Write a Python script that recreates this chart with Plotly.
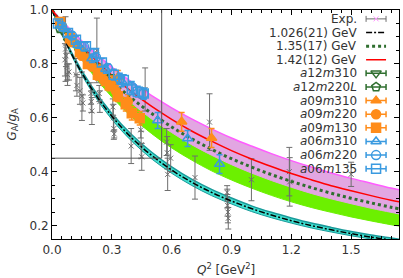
import plotly.graph_objects as go

# ---------------- data ----------------
Q2_GRID = [0.0, 0.1, 0.2, 0.3, 0.4, 0.5, 0.6, 0.7, 0.8, 0.9, 1.0, 1.1, 1.2, 1.3, 1.4, 1.5, 1.6, 1.7, 1.74]
FIT_1026 = [1.0, 0.834, 0.706, 0.606, 0.525, 0.460, 0.406, 0.361, 0.323, 0.291, 0.263, 0.239, 0.218, 0.200, 0.184, 0.170, 0.157, 0.146, 0.142]
FIT_1026_HI = [1.0, 0.840, 0.715, 0.616, 0.537, 0.472, 0.418, 0.372, 0.334, 0.302, 0.273, 0.249, 0.228, 0.209, 0.193, 0.178, 0.165, 0.154, 0.149]
FIT_1026_LO = [1.0, 0.828, 0.697, 0.594, 0.513, 0.447, 0.394, 0.349, 0.311, 0.280, 0.252, 0.229, 0.209, 0.191, 0.176, 0.162, 0.150, 0.139, 0.135]
FIT_135 = [1.0, 0.899, 0.812, 0.737, 0.672, 0.616, 0.566, 0.522, 0.483, 0.448, 0.417, 0.389, 0.364, 0.341, 0.320, 0.301, 0.284, 0.268, 0.262]
FIT_135_HI = [1.0, 0.919, 0.847, 0.783, 0.727, 0.676, 0.630, 0.589, 0.552, 0.518, 0.487, 0.459, 0.433, 0.410, 0.388, 0.368, 0.349, 0.332, 0.325]
FIT_135_LO = [1.0, 0.870, 0.765, 0.677, 0.603, 0.541, 0.488, 0.443, 0.403, 0.369, 0.339, 0.312, 0.288, 0.267, 0.249, 0.232, 0.217, 0.203, 0.198]
FIT_142 = [1.0, 0.908, 0.828, 0.758, 0.696, 0.642, 0.594, 0.551, 0.513, 0.478, 0.447, 0.419, 0.393, 0.370, 0.348, 0.329, 0.311, 0.294, 0.288]
FIT_142_HI = [1.0, 0.921, 0.850, 0.788, 0.732, 0.682, 0.637, 0.596, 0.559, 0.525, 0.495, 0.467, 0.441, 0.417, 0.395, 0.375, 0.357, 0.339, 0.333]
FIT_142_LO = [1.0, 0.891, 0.800, 0.721, 0.654, 0.595, 0.545, 0.500, 0.461, 0.426, 0.395, 0.367, 0.342, 0.319, 0.299, 0.281, 0.264, 0.249, 0.243]

EXP_Q2 = [0.065, 0.068, 0.070, 0.075, 0.078, 0.085, 0.120, 0.125, 0.140, 0.150, 0.155, 0.195, 0.197, 0.200,
          0.225, 0.237, 0.240, 0.305, 0.308, 0.310, 0.312, 0.397, 0.445, 0.447, 0.450, 0.467, 0.575, 0.578,
          0.580, 0.595, 0.717, 0.790, 0.878, 0.879, 0.880, 0.882, 0.884, 1.000, 1.190, 1.192, 1.500]
EXP_Y = [0.815, 0.855, 0.830, 0.790, 0.760, 0.770, 0.760, 0.720, 0.700, 0.680, 0.655, 0.690, 0.660, 0.625,
         0.850, 0.690, 0.660, 0.640, 0.600, 0.560, 0.540, 0.495, 0.555, 0.500, 0.455, 0.705, 0.510, 0.470,
         0.390, 0.450, 0.378, 0.584, 0.323, 0.300, 0.275, 0.250, 0.227, 0.370, 0.400, 0.362, 0.390]
EXP_ERR = [0.060, 0.120, 0.040, 0.050, 0.040, 0.030, 0.060, 0.040, 0.050, 0.090, 0.030, 0.040, 0.040, 0.050,
           0.120, 0.030, 0.040, 0.030, 0.050, 0.040, 0.015, 0.065, 0.030, 0.050, 0.050, 0.080, 0.050, 0.060,
           0.060, 0.050, 0.080, 0.105, 0.025, 0.035, 0.040, 0.040, 0.040, 0.078, 0.090, 0.090, 0.045]

A12M310_Q2 = [0.07, 0.14, 0.22, 0.30]
A12M310_Y = [0.905, 0.845, 0.790, 0.740]
A12M310_ERR = [0.015, 0.015, 0.020, 0.020]
A12M220L_Q2 = [0.04, 0.10, 0.16, 0.22, 0.28]
A12M220L_Y = [0.930, 0.880, 0.830, 0.790, 0.750]
A12M220L_ERR = [0.010, 0.015, 0.015, 0.020, 0.020]

A09M310_Q2 = [0.06, 0.12, 0.18, 0.24, 0.30, 0.33, 0.65, 0.80]
A09M310_Y = [0.930, 0.875, 0.820, 0.780, 0.735, 0.750, 0.585, 0.525]
A09M310_ERR = [0.010, 0.012, 0.015, 0.015, 0.020, 0.025, 0.035, 0.035]
A09M220_Q2 = [0.05, 0.10, 0.15, 0.20, 0.26, 0.32, 0.38]
A09M220_Y = [0.940, 0.880, 0.830, 0.790, 0.740, 0.700, 0.660]
A09M220_ERR = [0.010, 0.012, 0.015, 0.015, 0.020, 0.020, 0.025]
A09M130_Q2 = [0.04, 0.09, 0.14, 0.18, 0.23, 0.29, 0.33, 0.37, 0.40, 0.44]
A09M130_Y = [0.955, 0.895, 0.843, 0.800, 0.760, 0.720, 0.680, 0.650, 0.617, 0.598]
A09M130_ERR = [0.010, 0.012, 0.015, 0.015, 0.020, 0.020, 0.020, 0.025, 0.025, 0.025]

A06M310_Q2 = [0.06, 0.13, 0.20, 0.27, 0.35, 0.53, 0.68, 0.84]
A06M310_Y = [0.930, 0.870, 0.820, 0.780, 0.735, 0.590, 0.523, 0.428]
A06M310_ERR = [0.010, 0.012, 0.015, 0.015, 0.020, 0.030, 0.030, 0.035]
A06M220_Q2 = [0.05, 0.10, 0.16, 0.22, 0.28, 0.34, 0.40, 0.46]
A06M220_Y = [0.940, 0.905, 0.865, 0.825, 0.785, 0.745, 0.715, 0.690]
A06M220_ERR = [0.010, 0.012, 0.015, 0.015, 0.015, 0.020, 0.020, 0.020]
A06M135_Q2 = [0.03, 0.08, 0.12, 0.17, 0.21, 0.25, 0.31, 0.36, 0.40, 0.43, 0.46]
A06M135_Y = [0.950, 0.915, 0.890, 0.865, 0.840, 0.805, 0.760, 0.740, 0.705, 0.697, 0.690]
A06M135_ERR = [0.010, 0.012, 0.012, 0.015, 0.015, 0.015, 0.020, 0.020, 0.020, 0.020, 0.020]

INSET_Q2 = 0.55
INSET_Y = 0.45

LEGEND_LABELS = ["Exp.", "1.026(21) GeV", "1.35(17) GeV", "1.42(12) GeV",
                 "<i>a</i>12<i>m</i>310", "<i>a</i>12<i>m</i>220<i>L</i>",
                 "<i>a</i>09<i>m</i>310", "<i>a</i>09<i>m</i>220", "<i>a</i>09<i>m</i>130",
                 "<i>a</i>06<i>m</i>310", "<i>a</i>06<i>m</i>220", "<i>a</i>06<i>m</i>135"]

# ---------------- style ----------------
GRAY = "#6e6e6e"
DGREEN = "#2f6f2f"
ORANGE = "#ff8c1a"
BLUE = "#3a9ae0"
W, H = 403, 278
ML, MR, MT, MB = 52, 3, 7, 39
PW, PH = W - ML - MR, H - MT - MB

fig = go.Figure()


def band(lo, hi, fill, edge_hi, edge_lo):
    fig.add_trace(go.Scatter(x=Q2_GRID, y=lo, mode="lines", line=dict(color=edge_lo, width=1, shape="spline"),
                             showlegend=False, hoverinfo="skip"))
    fig.add_trace(go.Scatter(x=Q2_GRID, y=hi, mode="lines", fill="tonexty", fillcolor=fill,
                             line=dict(color=edge_hi, width=1.5, shape="spline"),
                             showlegend=False, hoverinfo="skip"))


band(FIT_135_LO, FIT_135_HI, "#6cf000", "#6cf000", "#6cf000")
band(FIT_142_LO, FIT_142_HI, "#e2a6e2", "#ff5cff", "#e2a6e2")
band(FIT_1026_LO, FIT_1026_HI, "#40e0d0", "#1a9a9a", "#1a9a9a")

# experimental points
fig.add_trace(go.Scatter(x=EXP_Q2, y=EXP_Y, mode="markers",
                         marker=dict(symbol="x-thin-open", size=5, line=dict(color=GRAY, width=1), color=GRAY),
                         error_y=dict(type="data", array=EXP_ERR, color=GRAY, thickness=1, width=3),
                         showlegend=False))

# fit curves
fig.add_trace(go.Scatter(x=Q2_GRID, y=FIT_1026, mode="lines",
                         line=dict(color="black", width=1.5, dash="6px,2px,2px,2px", shape="spline"),
                         showlegend=False))
fig.add_trace(go.Scatter(x=Q2_GRID, y=FIT_135, mode="lines",
                         line=dict(color=DGREEN, width=3, dash="3px,3px", shape="spline"),
                         showlegend=False))
fig.add_trace(go.Scatter(x=Q2_GRID, y=FIT_142, mode="lines",
                         line=dict(color="#ff0000", width=1.5, shape="spline"),
                         showlegend=False))

ENSEMBLES = [
    (A12M310_Q2, A12M310_Y, A12M310_ERR, DGREEN, "triangle-down-open"),
    (A12M220L_Q2, A12M220L_Y, A12M220L_ERR, DGREEN, "pentagon-open"),
    (A09M310_Q2, A09M310_Y, A09M310_ERR, ORANGE, "triangle-up"),
    (A09M220_Q2, A09M220_Y, A09M220_ERR, ORANGE, "circle"),
    (A09M130_Q2, A09M130_Y, A09M130_ERR, ORANGE, "square"),
    (A06M310_Q2, A06M310_Y, A06M310_ERR, BLUE, "triangle-up-open"),
    (A06M220_Q2, A06M220_Y, A06M220_ERR, BLUE, "circle-open"),
    (A06M135_Q2, A06M135_Y, A06M135_ERR, BLUE, "square-open"),
]
for xs, ys, es, col, sym in ENSEMBLES:
    fig.add_trace(go.Scatter(x=xs, y=ys, mode="markers",
                             marker=dict(symbol=sym, size=9, color=col, line=dict(color=col, width=1.5)),
                             error_y=dict(type="data", array=es, color=col, thickness=1.5, width=3),
                             showlegend=False))

# inset guide lines
fig.add_shape(type="line", x0=INSET_Q2, x1=INSET_Q2, y0=INSET_Y, y1=1.0, xref="x", yref="y",
              line=dict(color="#555555", width=1), layer="above")
fig.add_shape(type="line", x0=0, x1=INSET_Q2, y0=INSET_Y, y1=INSET_Y, xref="x", yref="y",
              line=dict(color="#555555", width=1), layer="above")

# ---------------- manual gnuplot-style key ----------------
ROW0_PX, ROW_DY = 16, 13.8
TEXT_RIGHT_PX, SAMPLE_C_PX, SAMPLE_HALF_PX = 360, 377, 10
fx = lambda px: (px - ML) / PW
fy = lambda py: (MT + PH - py) / PH
xc, xh = fx(SAMPLE_C_PX), SAMPLE_HALF_PX / PW
line_styles = [None,
               dict(color="black", width=1.5, dash="6px,2px,2px,2px"),
               dict(color=DGREEN, width=3, dash="3px,3px"),
               dict(color="#ff0000", width=1.5)]
for i, lab in enumerate(LEGEND_LABELS):
    yy = fy(ROW0_PX + i * ROW_DY)
    fig.add_annotation(x=fx(TEXT_RIGHT_PX), y=yy, xref="paper", yref="paper", text=lab, showarrow=False,
                       xanchor="right", yanchor="middle", font=dict(size=12, color="#333333"))
    if i == 0:
        fig.add_trace(go.Scatter(x=[xc], y=[yy], xaxis="x2", yaxis="y2", mode="markers",
                                 marker=dict(symbol="x-thin-open", size=5, line=dict(color=GRAY, width=1)),
                                 error_x=dict(type="data", array=[xh], color=GRAY, thickness=1, width=3),
                                 showlegend=False, hoverinfo="skip"))
    elif i <= 3:
        fig.add_trace(go.Scatter(x=[xc - xh, xc + xh], y=[yy, yy], xaxis="x2", yaxis="y2", mode="lines",
                                 line=line_styles[i], showlegend=False, hoverinfo="skip"))
    else:
        _, _, _, col, sym = ENSEMBLES[i - 4]
        fig.add_trace(go.Scatter(x=[xc], y=[yy], xaxis="x2", yaxis="y2", mode="markers",
                                 marker=dict(symbol=sym, size=9, color=col, line=dict(color=col, width=1.5)),
                                 error_x=dict(type="data", array=[xh], color=col, thickness=1.5, width=3),
                                 showlegend=False, hoverinfo="skip"))

# axis titles
fig.add_annotation(x=0.5, y=-(269 - (MT + PH)) / PH, xref="paper", yref="paper",
                   text="<i>Q</i><sup>2</sup> [GeV<sup>2</sup>]", showarrow=False,
                   xanchor="center", yanchor="middle", font=dict(size=12, color="#333333"))
fig.add_annotation(x=-(ML - 12) / PW, y=0.5, xref="paper", yref="paper",
                   text="<i>G</i><sub>A</sub>/<i>g</i><sub>A</sub>", showarrow=False, textangle=-90,
                   xanchor="center", yanchor="middle", font=dict(size=12, color="#333333"))

axis_common = dict(showgrid=False, zeroline=False, showline=True, linecolor="black", linewidth=1,
                   mirror="allticks", ticks="inside", ticklen=5, tickcolor="black",
                   tickfont=dict(size=12, color="#333333"), tickformat=".1f")
fig.update_layout(
    width=W, height=H, margin=dict(l=ML, r=MR, t=MT, b=MB),
    paper_bgcolor="white", plot_bgcolor="white",
    font=dict(family="DejaVu Sans", size=12, color="#333333"),
    xaxis=dict(range=[0, 1.74], tick0=0, dtick=0.3,
               minor=dict(dtick=0.05, ticks="inside", ticklen=3, tickcolor="black"), **axis_common),
    yaxis=dict(range=[0.15, 1.0], tick0=0, dtick=0.2,
               minor=dict(dtick=0.05, ticks="inside", ticklen=3, tickcolor="black"), **axis_common),
    xaxis2=dict(overlaying="x", range=[0, 1], visible=False, anchor="y2"),
    yaxis2=dict(overlaying="y", range=[0, 1], visible=False, anchor="x2"),
    showlegend=False,
)

fig.write_html("out.html", config={"displayModeBar": False},
               post_script="document.body.style.margin='0';document.body.style.overflow='hidden';")
